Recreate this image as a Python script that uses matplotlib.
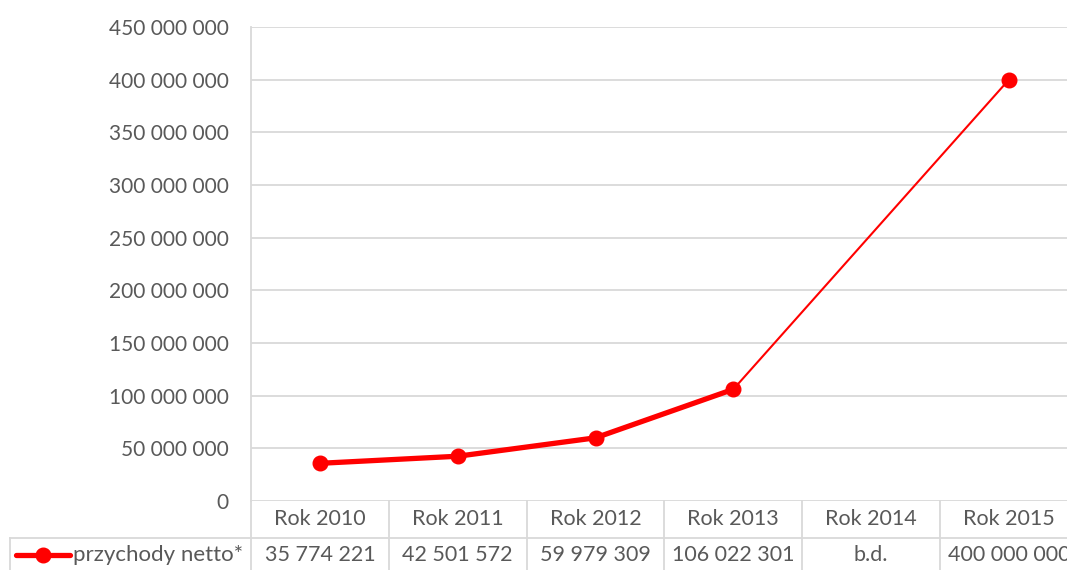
import numpy as np
import matplotlib.pyplot as plt
from matplotlib.lines import Line2D
from matplotlib.ticker import FuncFormatter, MultipleLocator
from matplotlib.transforms import blended_transform_factory

# data
categories = ["Rok 2010", "Rok 2011", "Rok 2012", "Rok 2013", "Rok 2014", "Rok 2015"]
przychody = [35774221, 42501572, 59979309, 106022301, None, 400000000]
series_name = "przychody netto*"
missing_label = "b.d."

RED = "#FF0000"
TXT = "#595959"
GRID = "#D9D9D9"
FS = 15

plt.rcParams["font.family"] = ["Lato", "DejaVu Sans"]

W, H = 1067, 570
fig = plt.figure(figsize=(W / 100, H / 100), dpi=100)

# plot area (extends slightly beyond right edge, as in the reference)
left_px, cat_w, zero_px, top_px = 251, 137.8, 501, 27
ax = fig.add_axes([left_px / W, (H - zero_px) / H,
                   len(categories) * cat_w / W, (zero_px - top_px) / H])

def fmt(v, pos=None):
    return "{:,.0f}".format(v).replace(",", " ")

x = np.arange(len(categories))
y = np.array([np.nan if v is None else v for v in przychody], dtype=float)

# thick line across consecutive points
ax.plot(x, y, color=RED, lw=3.8, solid_capstyle="round", zorder=3)
# thin line bridging the gap (b.d.)
valid = np.where(~np.isnan(y))[0]
for a, b in zip(valid[:-1], valid[1:]):
    if b - a > 1:
        ax.plot([x[a], x[b]], [y[a], y[b]], color=RED, lw=1.5, zorder=3)
ax.plot(x, y, "o", color=RED, ms=10.5, zorder=4)

ax.set_xlim(-0.5, len(categories) - 0.5)
ax.set_ylim(0, 450000000)
ax.yaxis.set_major_locator(MultipleLocator(50000000))
ax.yaxis.set_major_formatter(FuncFormatter(fmt))
ax.grid(axis="y", color=GRID, lw=1.3)
ax.set_axisbelow(True)
ax.set_xticks([])
ax.tick_params(axis="y", length=0, pad=16, labelsize=FS, labelcolor=TXT)
for s in ["top", "right", "bottom"]:
    ax.spines[s].set_visible(False)
ax.spines["left"].set_color(GRID)
ax.spines["left"].set_linewidth(1.3)

# data table below the chart
tr = blended_transform_factory(ax.transData, fig.transFigure)
def fy(px):
    return 1 - px / H

hdr_y, row_line, row_y, bottom = 519, 538, 555, 572
for i, c in enumerate(categories):
    ax.text(x[i], fy(hdr_y), c, transform=tr, ha="center", va="center",
            fontsize=15.5, color=TXT, clip_on=False)
    txt = missing_label if przychody[i] is None else fmt(przychody[i])
    ax.text(x[i], fy(row_y), txt, transform=tr, ha="center", va="center",
            fontsize=15.5, color=TXT, clip_on=False)

# table grid lines
for i in range(len(categories) + 1):
    fig.add_artist(Line2D([(left_px + i * cat_w) / W] * 2, [fy(zero_px), fy(bottom)],
                          color=GRID, lw=1.3))
fig.add_artist(Line2D([10 / W, 1], [fy(row_line)] * 2, color=GRID, lw=1.3))
fig.add_artist(Line2D([10 / W] * 2, [fy(row_line), fy(bottom)], color=GRID, lw=1.3))

# legend key inside the table
fig.add_artist(Line2D([16 / W, 70 / W], [fy(row_y)] * 2, color=RED, lw=3.8,
                      solid_capstyle="round"))
fig.add_artist(Line2D([43 / W], [fy(row_y)], marker="o", color=RED, ms=10.5))
fig.text(73 / W, fy(row_y), series_name, ha="left", va="center",
         fontsize=16, color=TXT)

fig.savefig("out.png", dpi=100)
